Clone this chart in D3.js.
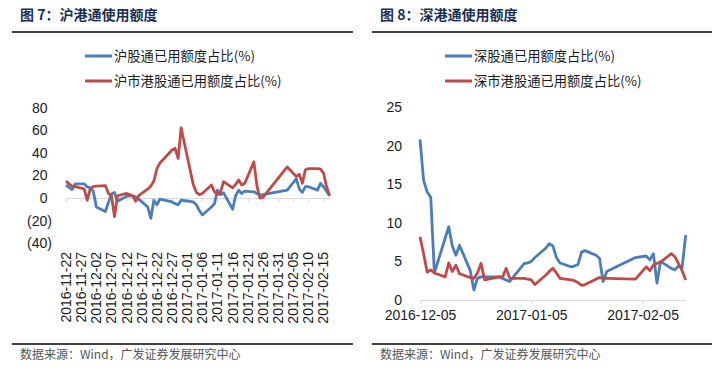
<!DOCTYPE html>
<html>
<head>
<meta charset="utf-8">
<script src="https://cdn.jsdelivr.net/npm/d3@7"></script>
<style>
  body { margin: 0; background: #fff; }
  svg { display: block; }
  .num { font-family: "Liberation Sans", Arial, sans-serif; font-size: 14px; fill: #1a1a1a; }
  .cjk { font-family: "Noto Sans CJK SC", sans-serif; }
</style>
</head>
<body>
<script>
// 图7 沪港通
var shDates = ["2016-11-22","2016-11-23","2016-11-24","2016-11-25","2016-11-28","2016-11-29","2016-11-30",
  "2016-12-01","2016-12-02","2016-12-05","2016-12-06","2016-12-07","2016-12-08","2016-12-09",
  "2016-12-12","2016-12-13","2016-12-14","2016-12-15","2016-12-16","2016-12-19","2016-12-20",
  "2016-12-21","2016-12-22","2016-12-23","2016-12-27","2016-12-28","2016-12-29","2016-12-30",
  "2017-01-03","2017-01-04","2017-01-05","2017-01-06","2017-01-09","2017-01-10","2017-01-11",
  "2017-01-12","2017-01-13","2017-01-16","2017-01-17","2017-01-18","2017-01-19","2017-01-20",
  "2017-01-23","2017-01-24","2017-01-25","2017-01-26","2017-02-03","2017-02-06","2017-02-07",
  "2017-02-08","2017-02-09","2017-02-10","2017-02-13","2017-02-14","2017-02-15","2017-02-16","2017-02-17"];
var shNorth = [11.5,9.5,7.5,12.5,12.5,10,9,6,-8,-12,-4,3.5,5,-3,1.5,2,2,1,-1,-8,-18,-2,-6,-1,-3.5,-5,-6,-2,
  -3.5,-6,-11,-15,-8,-5,7,3,4.5,-10,2,7,4,6,5.5,4,2.5,3,7,17,8,5,10,10,7,13,10,6,2];
var shSouth = [15,12.5,10.5,10,8,-2,8,10,10.5,11,4,2,-16.5,2,4,3,2,-3,2,8,10.5,15,26,31,42.5,44,35,62,
  12,5,3,4,11.5,5.5,3,5,14.5,9,12,16,11.5,13,32,11,0,0.5,27.5,19,21,13,25,26,26,25.5,22,10,2];
var shTicks = ["2016-11-22","2016-11-27","2016-12-02","2016-12-07","2016-12-12","2016-12-17","2016-12-22",
  "2016-12-27","2017-01-01","2017-01-06","2017-01-11","2017-01-16","2017-01-21","2017-01-26",
  "2017-01-31","2017-02-05","2017-02-10","2017-02-15"];
var shYTicks = [80,60,40,20,0,-20,-40];

// 图8 深港通
var szDates = ["2016-12-05","2016-12-06","2016-12-07","2016-12-08","2016-12-09","2016-12-12","2016-12-13",
  "2016-12-14","2016-12-15","2016-12-16","2016-12-19","2016-12-20","2016-12-21","2016-12-22","2016-12-23",
  "2016-12-27","2016-12-28","2016-12-29","2016-12-30","2017-01-03","2017-01-04","2017-01-05","2017-01-06",
  "2017-01-09","2017-01-10","2017-01-11","2017-01-12","2017-01-13","2017-01-16","2017-01-17","2017-01-18",
  "2017-01-19","2017-01-20","2017-01-23","2017-01-24","2017-01-25","2017-01-26","2017-02-03","2017-02-06",
  "2017-02-07","2017-02-08","2017-02-09","2017-02-10","2017-02-13","2017-02-14","2017-02-15","2017-02-16","2017-02-17"];
var szNorth = [20.8,15.5,14,13.3,3.5,8,9.5,7,5.8,7.1,3.8,1.3,2.8,3,3,3,2.8,2.6,2.4,4.7,4.8,5,5.5,
  6.7,7.3,7,5.5,4.8,4.3,4.4,4.6,6.2,6.4,5.8,5.4,2.4,3.7,5.5,5.7,5.2,6,2.2,5,4.1,3.9,4.4,4.2,8.4];
var szSouth = [8.2,6,3.6,3.9,3.5,3,4.8,3.7,4.5,3.4,2.9,2.8,3.5,4.75,2.6,3,3,4.1,2.8,2.8,2.7,2.6,2,
  3.2,3.7,4.1,3.5,2.8,2.6,2.5,2.25,1.9,2,2.7,2.9,2.8,2.8,2.7,4.3,3.8,4.5,4.75,4.9,6,5.6,4.7,3.8,2.6];
var szTicks = ["2016-12-05","2017-01-05","2017-02-05"];
var szYTicks = [0,5,10,15,20,25];

var blue = "#4a7ebb", red = "#be4b48", titleColor = "#1b2f52";
var parse = d3.timeParse("%Y-%m-%d");

var svg = d3.select("body").append("svg").attr("width", 719).attr("height", 370);

function frame(x0, x1, title, names) {
  svg.append("text").attr("class", "cjk").attr("x", x0 + 8).attr("y", 20)
    .style("font-size", "14px").style("font-weight", 700).attr("fill", titleColor).text(title);
  [32, 344].forEach(function(y) {
    svg.append("line").attr("x1", x0).attr("x2", x1).attr("y1", y).attr("y2", y)
      .attr("stroke", "#000").attr("stroke-width", 1.3);
  });
  svg.append("text").attr("class", "cjk").attr("x", x0 + 8).attr("y", 359)
    .style("font-size", "12px").attr("fill", "#555").text("数据来源：Wind，广发证券发展研究中心");
}

function legend(lx, names) {
  var lg = svg.append("g");
  names.forEach(function(n, i) {
    var y = 56 + i * 25;
    lg.append("line").attr("x1", lx).attr("x2", lx + 27).attr("y1", y).attr("y2", y)
      .attr("stroke", i ? red : blue).attr("stroke-width", 3);
    lg.append("text").attr("class", "cjk").attr("x", lx + 29).attr("y", y + 5)
      .style("font-size", "13.3px").attr("fill", "#1a1a1a").text(n);
  });
}

function lines(x, y, dates, series) {
  series.forEach(function(s) {
    var pts = dates.map(function(d, i) { return [parse(d), s.values[i]]; });
    svg.append("path").datum(pts)
      .attr("fill", "none").attr("stroke", s.color).attr("stroke-width", 2.8)
      .attr("stroke-linejoin", "round")
      .attr("d", d3.line().x(function(p) { return x(p[0]); }).y(function(p) { return y(p[1]); }));
  });
}

// ---- left panel
frame(12, 353, "图 7：沪港通使用额度");
legend(85, ["沪股通已用额度占比(%)", "沪市港股通已用额度占比(%)"]);

var x1 = d3.scaleTime().domain([parse("2016-11-22"), parse("2017-02-17")]).range([66, 329.6]);
var y1 = d3.scaleLinear().domain([-40, 80]).range([243.2, 107.6]);

svg.append("g").attr("transform", "translate(0," + y1(0) + ")")
  .call(d3.axisBottom(x1).tickValues(shTicks.map(parse)).tickSize(4).tickSizeOuter(0).tickFormat(""))
  .call(function(g) { g.selectAll("line, path").attr("stroke", "#d9d9d9"); });

svg.append("g").selectAll("text").data(shTicks).enter().append("text")
  .attr("class", "num")
  .attr("transform", function(d) { return "translate(" + x1(parse(d)) + ",252) rotate(-90)"; })
  .attr("text-anchor", "end").attr("dy", "0.35em").text(function(d) { return d; });

svg.append("g").attr("transform", "translate(52,0)")
  .call(d3.axisLeft(y1).tickValues(shYTicks).tickSize(0).tickPadding(0)
    .tickFormat(function(d) { return d < 0 ? "(" + (-d) + ")" : d; }))
  .call(function(g) {
    g.select(".domain").remove();
    g.selectAll("text").attr("class", "num").style("font-family", null).style("font-size", null)
      .attr("fill", function(d) { return d < 0 ? "#ff0000" : "#1a1a1a"; })
      .attr("x", function(d) { return d < 0 ? 0 : -4.5; });
  });

lines(x1, y1, shDates, [{values: shNorth, color: blue}, {values: shSouth, color: red}]);

// ---- right panel
frame(372, 712, "图 8：深港通使用额度");
legend(445, ["深股通已用额度占比(%)", "深市港股通已用额度占比(%)"]);

var x2 = d3.scaleTime().domain([parse("2016-12-05"), parse("2017-02-17")]).range([420, 685.7]);
var y2 = d3.scaleLinear().domain([0, 25]).range([300, 107]);

svg.append("g").attr("transform", "translate(0," + y2(0) + ")")
  .call(d3.axisBottom(x2).tickValues(szTicks.map(parse)).tickSize(4).tickSizeOuter(0)
    .tickPadding(6).tickFormat(d3.timeFormat("%Y-%m-%d")))
  .call(function(g) {
    g.selectAll("line, path").attr("stroke", "#d9d9d9");
    g.selectAll("text").attr("class", "num").style("font-family", null).style("font-size", null)
      .attr("fill", "#1a1a1a");
  });
svg.select("path.domain");

svg.append("g").attr("transform", "translate(402,0)")
  .call(d3.axisLeft(y2).tickValues(szYTicks).tickSize(0).tickPadding(0))
  .call(function(g) {
    g.select(".domain").remove();
    g.selectAll("text").attr("class", "num").style("font-family", null).style("font-size", null)
      .attr("fill", "#1a1a1a");
  });

lines(x2, y2, szDates, [{values: szNorth, color: blue}, {values: szSouth, color: red}]);
</script>
</body>
</html>
